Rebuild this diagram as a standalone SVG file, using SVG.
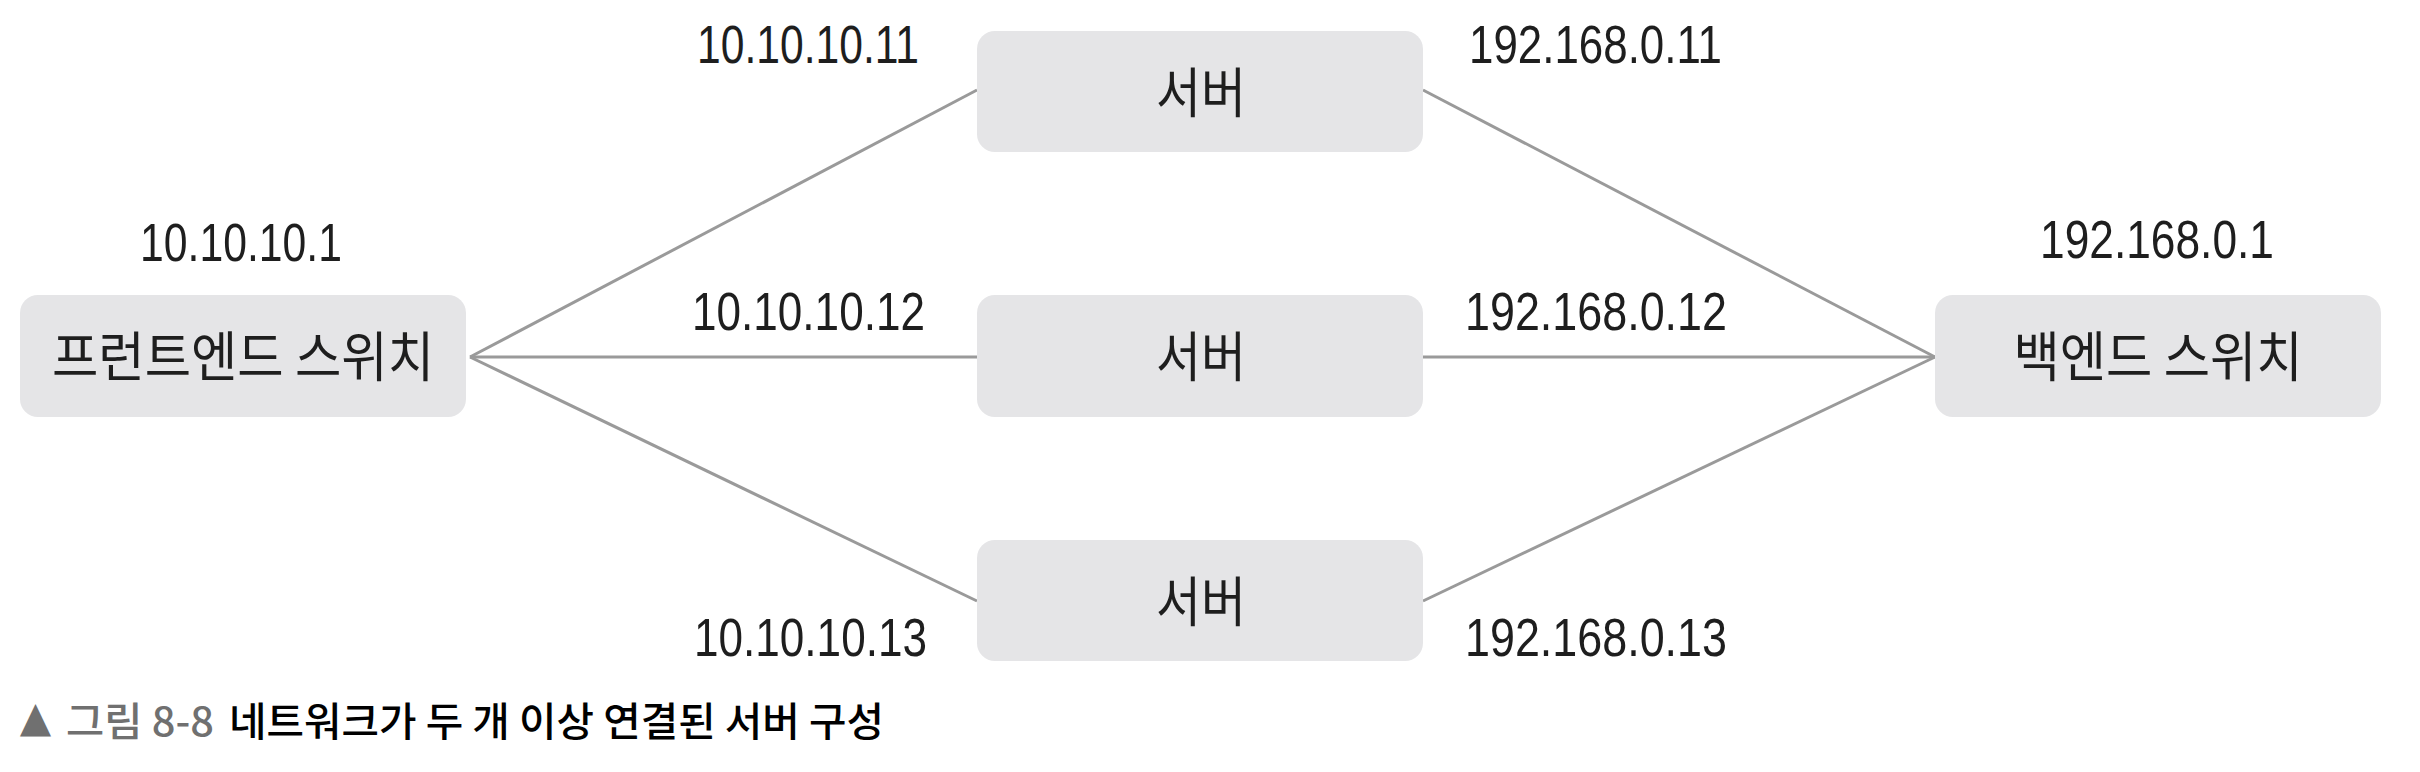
<svg xmlns="http://www.w3.org/2000/svg" width="2420" height="772" viewBox="0 0 2420 772">
<style>
.box{fill:#e5e5e7;}
.lbl{font-family:"Noto Sans CJK KR","Noto Sans",sans-serif;font-size:54px;fill:#1e1e1e;text-anchor:middle;}
.ip{font-family:"Liberation Sans",Arial,sans-serif;font-size:54px;fill:#1e1e1e;}
.conn line{stroke:#9a9a9a;stroke-width:3;fill:none;}
.cap{font-family:"Noto Sans CJK KR","Noto Sans",sans-serif;font-size:40px;font-weight:500;}
</style>
<rect width="2420" height="772" fill="#ffffff"/>
<g id="connectors" class="conn">
<line x1="470" y1="357" x2="977" y2="90"/>
<line x1="470" y1="357" x2="977" y2="357"/>
<line x1="470" y1="357" x2="977" y2="601"/>
<line x1="1423" y1="90" x2="1935" y2="357"/>
<line x1="1423" y1="357" x2="1935" y2="357"/>
<line x1="1423" y1="601" x2="1935" y2="357"/>
</g>
<g id="front-switch">
<rect class="box" x="20" y="295" width="446" height="122" rx="18"/>
<text class="lbl" x="243" y="377" textLength="382" lengthAdjust="spacingAndGlyphs">프런트엔드 스위치</text>
<text class="ip" x="140" y="261" textLength="202" lengthAdjust="spacingAndGlyphs">10.10.10.1</text>
</g>
<g id="server1">
<rect class="box" x="977" y="31" width="446" height="121" rx="18"/>
<text class="lbl" x="1201" y="113" textLength="90" lengthAdjust="spacingAndGlyphs">서버</text>
</g>
<g id="server2">
<rect class="box" x="977" y="295" width="446" height="122" rx="18"/>
<text class="lbl" x="1201" y="377" textLength="90" lengthAdjust="spacingAndGlyphs">서버</text>
</g>
<g id="server3">
<rect class="box" x="977" y="540" width="446" height="121" rx="18"/>
<text class="lbl" x="1201" y="622" textLength="90" lengthAdjust="spacingAndGlyphs">서버</text>
</g>
<g id="back-switch">
<rect class="box" x="1935" y="295" width="446" height="122" rx="18"/>
<text class="lbl" x="2158" y="377" textLength="289" lengthAdjust="spacingAndGlyphs">백엔드 스위치</text>
<text class="ip" x="2040" y="258" textLength="234" lengthAdjust="spacingAndGlyphs">192.168.0.1</text>
</g>
<g id="ip-labels">
<text class="ip" x="697" y="63" textLength="222" lengthAdjust="spacingAndGlyphs">10.10.10.11</text>
<text class="ip" x="1469" y="63" textLength="253" lengthAdjust="spacingAndGlyphs">192.168.0.11</text>
<text class="ip" x="692" y="330" textLength="233" lengthAdjust="spacingAndGlyphs">10.10.10.12</text>
<text class="ip" x="1465" y="330" textLength="262" lengthAdjust="spacingAndGlyphs">192.168.0.12</text>
<text class="ip" x="694" y="656" textLength="233" lengthAdjust="spacingAndGlyphs">10.10.10.13</text>
<text class="ip" x="1465" y="656" textLength="262" lengthAdjust="spacingAndGlyphs">192.168.0.13</text>
</g>
<g id="caption">
<text class="cap" x="19" y="737" fill="#707070" font-size="38" textLength="33" lengthAdjust="spacingAndGlyphs">▲</text>
<text class="cap" x="66" y="736" fill="#707070" textLength="148" lengthAdjust="spacingAndGlyphs">그림 8-8</text>
<text class="cap" x="229" y="736" fill="#000000" textLength="655" lengthAdjust="spacingAndGlyphs">네트워크가 두 개 이상 연결된 서버 구성</text>
</g>
</svg>
